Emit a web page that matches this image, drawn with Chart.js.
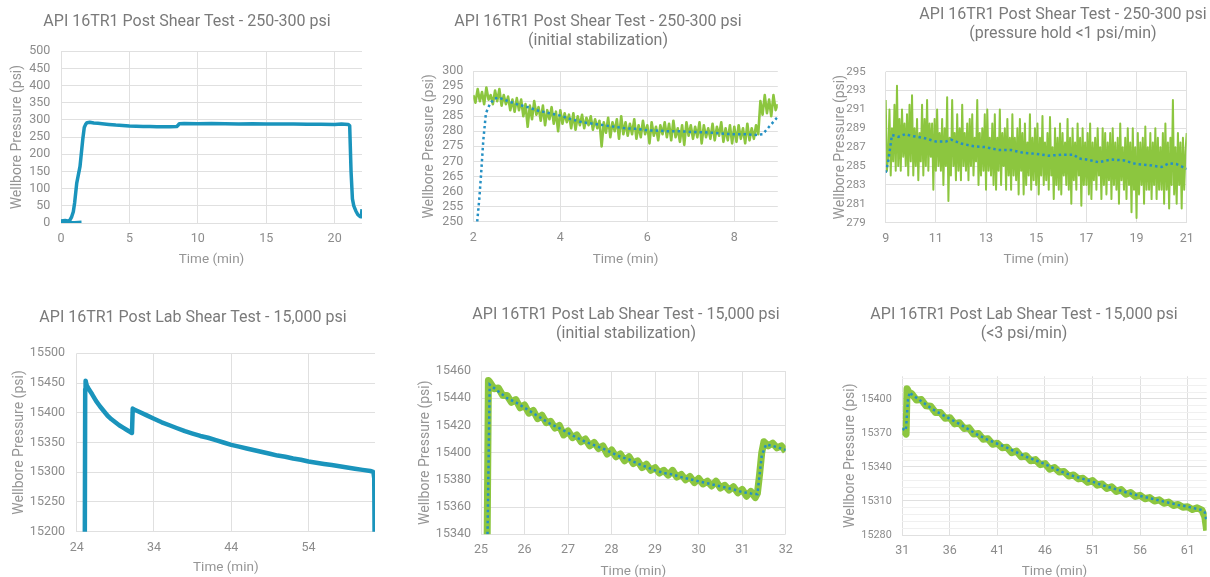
<!DOCTYPE html>
<html>
<head>
<meta charset="utf-8">
<script src="https://cdn.jsdelivr.net/npm/chart.js@4.4.1/dist/chart.umd.min.js"></script>
<style>
  html, body { margin: 0; padding: 0; background: #fff; }
  body { position: relative; width: 1210px; height: 577px; overflow: hidden; }
  canvas { position: absolute; }
</style>
</head>
<body>
<canvas id="c1"></canvas>
<canvas id="c2"></canvas>
<canvas id="c3"></canvas>
<canvas id="c4"></canvas>
<canvas id="c5"></canvas>
<canvas id="c6"></canvas>
<script>
/* ---------- DATA ---------- */

// panel 1 : full 250-300 psi test
const p1Time = [1.5, 1.0, 0.5, 0.0, 0.0, 0.3, 0.6, 0.78, 0.9, 1.0,
  1.15, 1.39, 1.59, 1.70, 1.8, 1.9, 2.1, 2.4, 2.7, 3.0,
  3.5, 4.0, 4.5, 5.0, 5.5, 6.0, 6.5, 7.0, 7.5, 8.0,
  8.45, 8.55, 8.65, 9.0, 10.0, 11.0, 12.0, 13.0, 14.0, 15.0,
  16.0, 17.0, 18.0, 19.0, 20.0, 20.5, 21.0, 21.1, 21.2, 21.3,
  21.4, 21.55, 21.7, 21.85, 21.95, 22.0];
const p1Pressure = [2, 1, 2, 3, 6, 7, 5, 18, 33, 60,
  116, 165, 243, 278, 287, 292, 293, 291, 290, 289,
  287, 285, 284, 282, 281.5, 281, 280.5, 280, 280, 280,
  280.5, 284, 289, 289.5, 289, 289.5, 288.5, 288, 288.5, 288,
  288, 288, 287.5, 287.5, 287, 288, 287, 283, 150, 70,
  50, 35, 24, 19, 18, 40];
const p1XTicks = [0, 5, 10, 15, 20];
const p1YTicks = [0, 50, 100, 150, 200, 250, 300, 350, 400, 450, 500];

// panel 2 : initial stabilization 250-300 psi
const p2Time = [2.00, 2.05, 2.10, 2.15, 2.20, 2.25, 2.30, 2.35, 2.40, 2.45,
  2.50, 2.55, 2.60, 2.65, 2.70, 2.75, 2.80, 2.85, 2.90, 2.95,
  3.00, 3.05, 3.10, 3.15, 3.20, 3.25, 3.30, 3.35, 3.40, 3.45,
  3.50, 3.55, 3.60, 3.65, 3.70, 3.75, 3.80, 3.85, 3.90, 3.95,
  4.00, 4.05, 4.10, 4.15, 4.20, 4.25, 4.30, 4.35, 4.40, 4.45,
  4.50, 4.55, 4.60, 4.65, 4.70, 4.75, 4.80, 4.85, 4.90, 4.95,
  5.00, 5.05, 5.10, 5.15, 5.20, 5.25, 5.30, 5.35, 5.40, 5.45,
  5.50, 5.55, 5.60, 5.65, 5.70, 5.75, 5.80, 5.85, 5.90, 5.95,
  6.00, 6.05, 6.10, 6.15, 6.20, 6.25, 6.30, 6.35, 6.40, 6.45,
  6.50, 6.55, 6.60, 6.65, 6.70, 6.75, 6.80, 6.85, 6.90, 6.95,
  7.00, 7.05, 7.10, 7.15, 7.20, 7.25, 7.30, 7.35, 7.40, 7.45,
  7.50, 7.55, 7.60, 7.65, 7.70, 7.75, 7.80, 7.85, 7.90, 7.95,
  8.00, 8.05, 8.10, 8.15, 8.20, 8.25, 8.30, 8.35, 8.40, 8.45,
  8.50, 8.55, 8.60, 8.65, 8.70, 8.75, 8.80, 8.85, 8.90, 8.95,
  9.00];
const p2Pressure = [292, 289.5, 294, 290, 293, 289, 294.5, 290.5, 292, 289,
  293.5, 290, 294, 288.5, 292, 289, 291.5, 287, 290.5, 286.5,
  291, 287, 290.5, 285, 289, 281.5, 288.5, 284, 290, 285.5,
  288, 283.5, 288.5, 282, 287, 284, 288, 282.5, 286.5, 280,
  287, 282.5, 286, 283, 285.5, 281, 286, 280.5, 285, 282,
  285.5, 281, 284.5, 282, 285, 280.5, 284, 281, 283.5, 275,
  283, 279.5, 284.5, 278, 283, 280, 284, 277.5, 285, 279,
  283, 278.5, 282.5, 279, 284, 277.5, 282, 278, 283.5, 279,
  282, 276, 283, 278.5, 281.5, 277, 282, 279, 283, 278,
  282.5, 277, 283.5, 278, 281, 276.5, 282, 275.5, 283, 278.5,
  282, 277.5, 281.5, 278, 283, 276, 282, 278, 281, 277.5,
  282.5, 277, 281.5, 278.5, 283, 276.5, 281, 277, 282, 276,
  281.5, 276.5, 282, 277.5, 281, 276, 282.5, 277, 281, 277.5,
  282, 279, 290, 285.5, 292, 286, 290.5, 285, 292, 287,
  289];
const p2AvgTime = [2.09, 2.14, 2.18, 2.23, 2.29, 2.38, 2.48, 2.58, 2.8, 3.0,
  3.25, 3.5, 3.75, 4.0, 4.25, 4.5, 4.75, 5.0, 5.25, 5.5,
  5.75, 6.0, 6.25, 6.5, 6.75, 7.0, 7.25, 7.5, 7.75, 8.0,
  8.25, 8.5, 8.65, 8.8, 9.0];
const p2AvgPressure = [250, 258, 266, 277, 286, 289, 290.8, 291.2, 290, 289,
  288, 286.8, 286, 285.2, 284, 283, 282.5, 282, 281.5, 281,
  280.8, 280.3, 280.2, 280, 280, 279.8, 279.7, 279.5, 279.2, 279,
  279, 278.8, 279, 281.5, 284.8];
const p2XTicks = [2, 4, 6, 8];
const p2YTicks = [250, 255, 260, 265, 270, 275, 280, 285, 290, 295, 300];

// panel 3 : pressure hold 250-300 psi (one row per minute)
const p3Time = [
  9.00, 9.05, 9.10, 9.15, 9.20, 9.25, 9.30, 9.35, 9.40, 9.45, 9.50, 9.55, 9.60, 9.65, 9.70, 9.75, 9.80, 9.85, 9.90, 9.95,
  10.00, 10.05, 10.10, 10.15, 10.20, 10.25, 10.30, 10.35, 10.40, 10.45, 10.50, 10.55, 10.60, 10.65, 10.70, 10.75, 10.80, 10.85, 10.90, 10.95,
  11.00, 11.05, 11.10, 11.15, 11.20, 11.25, 11.30, 11.35, 11.40, 11.45, 11.50, 11.55, 11.60, 11.65, 11.70, 11.75, 11.80, 11.85, 11.90, 11.95,
  12.00, 12.05, 12.10, 12.15, 12.20, 12.25, 12.30, 12.35, 12.40, 12.45, 12.50, 12.55, 12.60, 12.65, 12.70, 12.75, 12.80, 12.85, 12.90, 12.95,
  13.00, 13.05, 13.10, 13.15, 13.20, 13.25, 13.30, 13.35, 13.40, 13.45, 13.50, 13.55, 13.60, 13.65, 13.70, 13.75, 13.80, 13.85, 13.90, 13.95,
  14.00, 14.05, 14.10, 14.15, 14.20, 14.25, 14.30, 14.35, 14.40, 14.45, 14.50, 14.55, 14.60, 14.65, 14.70, 14.75, 14.80, 14.85, 14.90, 14.95,
  15.00, 15.05, 15.10, 15.15, 15.20, 15.25, 15.30, 15.35, 15.40, 15.45, 15.50, 15.55, 15.60, 15.65, 15.70, 15.75, 15.80, 15.85, 15.90, 15.95,
  16.00, 16.05, 16.10, 16.15, 16.20, 16.25, 16.30, 16.35, 16.40, 16.45, 16.50, 16.55, 16.60, 16.65, 16.70, 16.75, 16.80, 16.85, 16.90, 16.95,
  17.00, 17.05, 17.10, 17.15, 17.20, 17.25, 17.30, 17.35, 17.40, 17.45, 17.50, 17.55, 17.60, 17.65, 17.70, 17.75, 17.80, 17.85, 17.90, 17.95,
  18.00, 18.05, 18.10, 18.15, 18.20, 18.25, 18.30, 18.35, 18.40, 18.45, 18.50, 18.55, 18.60, 18.65, 18.70, 18.75, 18.80, 18.85, 18.90, 18.95,
  19.00, 19.05, 19.10, 19.15, 19.20, 19.25, 19.30, 19.35, 19.40, 19.45, 19.50, 19.55, 19.60, 19.65, 19.70, 19.75, 19.80, 19.85, 19.90, 19.95,
  20.00, 20.05, 20.10, 20.15, 20.20, 20.25, 20.30, 20.35, 20.40, 20.45, 20.50, 20.55, 20.60, 20.65, 20.70, 20.75, 20.80, 20.85, 20.90, 20.95,
  21.00];
const p3Pressure = [
  292, 284.5, 286, 291, 284, 289, 285.5, 291.5, 284.5, 293.5, 285, 290, 284.5, 291, 286, 289.5, 285, 290.5, 284, 291.5,
  285.5, 292.5, 284, 289, 285, 290, 283.5, 288.5, 285.5, 291.5, 284, 290, 285, 292, 284.5, 289.5, 286, 289.5, 282.5, 290,
  284.5, 291, 285, 288.5, 284.5, 290, 283, 289, 285, 292.3, 281.3, 288, 284, 292, 285, 288.5, 283.5, 290.5, 284.5, 289,
  283.5, 291.5, 285, 288.5, 284.5, 289.5, 283.5, 290, 285, 290.5, 284, 288, 285.5, 292, 283, 288.5, 284, 289, 284.5, 290.5,
  282.5, 291, 284.5, 288, 284, 289.5, 283, 290.5, 282.5, 288, 284.5, 291, 283, 288.5, 285, 289, 282.5, 290, 284, 288,
  282.5, 290.5, 284, 288, 283.5, 289, 282, 290, 284.5, 288.5, 282, 289.5, 283, 287.5, 284, 290.5, 282.5, 288, 283.5, 289,
  283, 289.5, 282, 288, 284, 290.3, 283, 287.5, 283.5, 288.5, 282.5, 290.2, 284, 287, 281.5, 289, 283, 288, 282.5, 289.5,
  282, 288.5, 284, 287.5, 283, 290, 282.5, 288, 281, 289, 283.5, 287.5, 282.5, 289.5, 284, 288, 280.8, 289, 283, 287.5,
  283, 288.5, 282, 289.5, 281.5, 287.5, 283.5, 288, 282.5, 289, 284, 287, 281.5, 289, 283, 288.5, 282, 287.5, 283.5, 288.5,
  281.5, 289, 283, 287.5, 282.5, 288, 281, 289.5, 283.5, 287, 282.5, 288, 281.5, 289, 283, 287.5, 280.1, 289, 282.5, 287,
  279.5, 288.5, 282, 287.5, 283, 288, 281, 289.2, 282.5, 287, 282.5, 288.5, 281.5, 287.5, 283, 289, 281.5, 288, 282.5, 287,
  282.5, 288.5, 281, 289.5, 282.5, 287.5, 280.5, 288, 283, 292, 282, 287, 281, 288.5, 283, 287.5, 280.5, 288, 282.5, 286.5,
  288.5];
const p3AvgTime = [9.0, 9.1, 9.25, 9.5, 9.8, 10.0, 10.5, 11.0, 11.4, 11.6,
  12.0, 12.5, 13.0, 13.5, 14.0, 14.5, 15.0, 15.5, 16.0, 16.5,
  16.7, 17.0, 17.5, 18.0, 18.5, 19.0, 19.5, 20.0, 20.3, 20.6,
  21.0];
const p3AvgPressure = [284.3, 285.5, 288.3, 288.1, 288.4, 288.2, 288.0, 287.6, 287.6, 287.8,
  287.4, 287.1, 287.0, 286.7, 286.7, 286.4, 286.3, 286.1, 286.2, 286.2,
  285.8, 285.7, 285.4, 285.7, 285.6, 285.2, 285.1, 284.9, 285.3, 285.2,
  284.7];
const p3XTicks = [9, 11, 13, 15, 17, 19, 21];
const p3YTicks = [279, 281, 283, 285, 287, 289, 291, 293, 295];

// panel 4 : full 15,000 psi test
const p4Time = [25.05, 25.1, 25.15, 25.3, 25.6, 26.0, 26.5, 27.0, 27.5, 28.0,
  28.5, 29.0, 29.5, 30.0, 30.5, 31.0, 31.15, 31.25, 31.5, 32.0,
  33, 34, 35, 36, 37, 38, 39, 40, 41, 42,
  43, 44, 45, 46, 47, 48, 49, 50, 51, 52,
  53, 54, 55, 56, 57, 58, 59, 60, 61, 62,
  62.3, 62.4, 62.5, 62.55];
const p4Pressure = [15190, 15440, 15454, 15446, 15439, 15431, 15420, 15411, 15403, 15395,
  15389, 15384, 15379, 15375, 15371, 15367, 15366, 15407, 15405, 15402,
  15396, 15390, 15384, 15379, 15374, 15369, 15365, 15361, 15358, 15354,
  15350, 15346, 15343, 15340, 15337, 15334, 15331, 15328, 15326, 15323,
  15321, 15318, 15316, 15314, 15312, 15310, 15308, 15306, 15304, 15302,
  15301, 15300, 15290, 15190];
const p4XTicks = [24, 34, 44, 54];
const p4YTicks = [15200, 15250, 15300, 15350, 15400, 15450, 15500];

// panel 5 : initial stabilization 15,000 psi
const p5Time = [25.14, 25.17,
  25.2, 25.3, 25.4, 25.5, 25.6, 25.7, 25.8, 25.9, 26.0, 26.1,
  26.2, 26.3, 26.4, 26.5, 26.6, 26.7, 26.8, 26.9, 27.0, 27.1,
  27.2, 27.3, 27.4, 27.5, 27.6, 27.7, 27.8, 27.9, 28.0, 28.1,
  28.2, 28.3, 28.4, 28.5, 28.6, 28.7, 28.8, 28.9, 29.0, 29.1,
  29.2, 29.3, 29.4, 29.5, 29.6, 29.7, 29.8, 29.9, 30.0, 30.1,
  30.2, 30.3, 30.4, 30.5, 30.6, 30.7, 30.8, 30.9, 31.0, 31.1,
  31.2, 31.3,
  31.35, 31.4, 31.45, 31.5, 31.6, 31.7, 31.8, 31.9, 32.0];
const p5Pressure = [15330, 15453,
  15452, 15447, 15447.5, 15442, 15442, 15437, 15439, 15433, 15435, 15429,
  15431, 15425, 15427.5, 15422, 15423, 15418, 15420, 15413, 15416, 15411,
  15413, 15408, 15410, 15405, 15407.5, 15403, 15405, 15399, 15402, 15397,
  15399, 15394, 15397, 15392, 15394, 15389, 15391.5, 15387, 15389, 15385,
  15387, 15383.5, 15387, 15382, 15384, 15380, 15382.5, 15378, 15381, 15377,
  15379, 15375.5, 15379, 15374, 15376, 15372.5, 15375, 15370.5, 15373, 15368,
  15371.5, 15367,
  15370, 15384, 15400, 15408, 15405, 15407, 15403.5, 15405, 15401];
const p5AvgTime = [25.15, 25.2, 25.4, 25.6, 25.8, 26.0, 26.2, 26.4, 26.6, 26.8,
  27.0, 27.2, 27.4, 27.6, 27.8, 28.0, 28.2, 28.4, 28.6, 28.8,
  29.0, 29.2, 29.4, 29.6, 29.8, 30.0, 30.2, 30.4, 30.6, 30.8,
  31.0, 31.2, 31.35, 31.45, 31.55, 31.7, 31.85, 32.0];
const p5AvgPressure = [15340, 15450, 15445, 15440, 15437, 15433, 15429, 15425, 15421, 15418,
  15414.5, 15411, 15408, 15405.5, 15403, 15400, 15397, 15395, 15392, 15389.5,
  15387, 15385, 15384, 15382, 15380.5, 15379, 15377.5, 15376, 15374.5, 15373,
  15371, 15370, 15369.5, 15398, 15406, 15405, 15403.5, 15402];
const p5XTicks = [25, 26, 27, 28, 29, 30, 31, 32];
const p5YTicks = [15340, 15360, 15380, 15400, 15420, 15440, 15460];

// panel 6 : hold <3 psi/min 15,000 psi
const p6Time = [31.0, 31.2, 31.4, 31.5, 31.7, 32.0, 32.5, 33.0, 33.5, 34.0,
  34.5, 35.0, 35.5, 36.0, 36.5, 37.0, 37.5, 38.0, 38.5, 39.0,
  39.5, 40.0, 40.5, 41.0, 41.5, 42.0, 42.5, 43.0, 43.5, 44.0,
  44.5, 45.0, 45.5, 46.0, 46.5, 47.0, 47.5, 48.0, 48.5, 49.0,
  49.5, 50.0, 50.5, 51.0, 51.5, 52.0, 52.5, 53.0, 53.5, 54.0,
  54.5, 55.0, 55.5, 56.0, 56.5, 57.0, 57.5, 58.0, 58.5, 59.0,
  59.5, 60.0, 60.5, 61.0, 61.5, 62.0, 62.5, 62.8, 63.0];
const p6Pressure = [15368, 15372, 15369, 15409, 15406, 15404.5, 15399, 15399.5, 15394, 15393.5,
  15388, 15388, 15383, 15383.5, 15378, 15379, 15374, 15374.5, 15369, 15369.5,
  15364.5, 15365, 15360, 15361, 15357, 15357.5, 15352.5, 15354, 15349, 15350,
  15345.5, 15346.5, 15342, 15343, 15338, 15339.5, 15335.5, 15336, 15332, 15333,
  15329.5, 15330, 15326.5, 15328, 15324, 15325, 15321, 15322.5, 15318.5, 15320,
  15316, 15317.5, 15314, 15315, 15312, 15313, 15310, 15311, 15308, 15309,
  15306, 15307, 15304.5, 15305, 15302.5, 15304, 15302, 15296, 15284];
const p6AvgTime = [31.0, 31.3, 31.4, 31.6, 31.8, 32, 33, 34, 35, 36,
  37, 38, 39, 40, 41, 42, 43, 44, 45, 46,
  47, 48, 49, 50, 51, 52, 53, 54, 55, 56,
  57, 58, 59, 60, 61, 62, 62.5, 62.8, 63];
const p6AvgPressure = [15374, 15372, 15375, 15400, 15406, 15404, 15398, 15392, 15387, 15382.5,
  15378, 15373, 15368, 15364, 15360.5, 15357, 15353, 15349, 15346, 15342.5,
  15338.5, 15335, 15332, 15329.5, 15327, 15324, 15321.5, 15319, 15316.5, 15314.5,
  15312.5, 15310.5, 15308.5, 15306.5, 15305, 15303, 15302, 15300, 15292];
const p6XTicks = [31, 36, 41, 46, 51, 56, 61];
const p6YTicks = [15280, 15310, 15340, 15370, 15400];
const p6YMinor = [15280, 15286, 15292, 15298, 15304, 15310, 15316, 15322, 15328, 15334,
  15340, 15346, 15352, 15358, 15364, 15370, 15376, 15382, 15388, 15394,
  15400, 15406, 15412, 15418];

const titleShear = "API 16TR1 Post Shear Test - 250-300 psi";
const titleLab = "API 16TR1 Post Lab Shear Test - 15,000 psi";


/* ---------- STYLE ---------- */
const FONT = "Roboto";
const BLUE = "#1a94bc";
const GREEN = "#8cc63f";
const DOTS = "#2590c4";
const GRID = "#e0e0e0";
const MINOR = "#f0f0f0";

Chart.defaults.font.family = FONT;


function pts(xs, ys) {
  return xs.map((x, i) => ({ x: x, y: ys[i] }));
}

function solid(xs, ys, color, width) {
  return {
    data: pts(xs, ys),
    borderColor: color,
    borderWidth: width,
    pointRadius: 0,
    tension: 0,
    fill: false,
    borderJoinStyle: "round",
    order: 2
  };
}

function dotted(xs, ys) {
  return {
    data: pts(xs, ys),
    borderColor: DOTS,
    borderWidth: 2.5,
    borderDash: [2.5, 3],
    pointRadius: 0,
    tension: 0,
    fill: false,
    order: 1
  };
}


/* ---------- ONE PANEL ---------- */
function makePanel(p) {

  const cv = document.getElementById(p.id);
  cv.width = p.w;
  cv.height = p.h;
  cv.style.left = p.left + "px";
  cv.style.top = p.top + "px";

  const plotL = p.plotL - p.left;
  const plotR = p.plotR - p.left;
  const plotB = p.plotB - p.top;

  new Chart(cv, {
    type: "line",
    data: { datasets: p.datasets },
    options: {
      responsive: false,
      animation: false,
      devicePixelRatio: 1,
      layout: { padding: 0 },
      plugins: {
        legend: { display: false },
        tooltip: { enabled: false },
        title: {
          display: true,
          text: p.title,
          color: "#7a7a7a",
          font: { size: 16, weight: "normal", lineHeight: 1.2 },
          padding: { top: p.tTop, bottom: p.tBottom }
        }
      },
      scales: {
        x: {
          type: "linear",
          min: p.xMin,
          max: p.xMax,
          afterBuildTicks: s => { s.ticks = p.xTicks.map(v => ({ value: v })); },
          afterFit: s => {
            s.height = p.h - plotB;
            s.paddingRight = p.w - plotR;
          },
          ticks: {
            autoSkip: false,
            maxRotation: 0,
            padding: 8.5,
            color: "#8c8c8c",
            font: { size: 12.5 },
            callback: v => String(v)
          },
          grid: { color: GRID, drawTicks: false },
          border: { display: false },
          title: {
            display: true,
            text: "Time (min)",
            color: "#959595",
            font: { size: 13.5, lineHeight: 1.2 },
            padding: { top: 0, bottom: p.xTitlePad }
          }
        },
        y: {
          type: "linear",
          min: p.yMin,
          max: p.yMax,
          afterBuildTicks: s => {
            const src = p.yGrid || p.yTicks;
            s.ticks = src.map(v => ({ value: v }));
          },
          afterFit: s => { s.width = plotL; },
          ticks: {
            autoSkip: false,
            padding: p.yPad,
            color: "#8c8c8c",
            font: { size: p.yFont || 12.5 },
            callback: v => (p.yTicks.includes(v) ? String(v) : "")
          },
          grid: {
            color: c => (p.yTicks.includes(c.tick.value) ? GRID : MINOR),
            drawTicks: false
          },
          border: { display: false },
          title: {
            display: true,
            text: "Wellbore Pressure (psi)",
            color: "#959595",
            font: { size: 14, lineHeight: 1.2 },
            padding: { top: p.yTitlePad, bottom: 0 }
          }
        }
      }
    }
  });
}


/* ---------- PANELS ---------- */
makePanel({
  id: "c1", left: 0, top: 0, w: 374, h: 273,
  plotL: 61, plotR: 362, plotB: 223,
  tTop: 12, tBottom: 20, title: titleShear,
  xMin: 0, xMax: 22, xTicks: p1XTicks,
  yMin: 0, yMax: 500, yTicks: p1YTicks,
  yPad: 10.7, yTitlePad: 8.6, xTitlePad: 4.9,
  datasets: [solid(p1Time, p1Pressure, BLUE, 3.5)]
});

makePanel({
  id: "c2", left: 410, top: 0, w: 376, h: 273,
  plotL: 473.3, plotR: 777.8, plotB: 221.7,
  tTop: 12.4, tBottom: 20.2, title: [titleShear, "(initial stabilization)"],
  xMin: 2, xMax: 9, xTicks: p2XTicks,
  yMin: 250, yMax: 300, yTicks: p2YTicks,
  yPad: 10, yTitlePad: 10.6, xTitlePad: 4.9,
  datasets: [solid(p2Time, p2Pressure, GREEN, 2.6), dotted(p2AvgTime, p2AvgPressure)]
});

makePanel({
  id: "c3", left: 830, top: 0, w: 466, h: 273,
  plotL: 885.7, plotR: 1186.7, plotB: 222.7,
  tTop: 5.4, tBottom: 27.9, title: [titleShear, "(pressure hold <1 psi/min)"],
  xMin: 9, xMax: 21, xTicks: p3XTicks,
  yMin: 279, yMax: 295, yTicks: p3YTicks,
  yPad: 20, yTitlePad: 1.6, xTitlePad: 4.9, yFont: 11.5,
  datasets: [solid(p3Time, p3Pressure, GREEN, 2), dotted(p3AvgTime, p3AvgPressure)]
});

makePanel({
  id: "c4", left: 0, top: 290, w: 386, h: 295,
  plotL: 76.7, plotR: 375, plotB: 531.7,
  tTop: 18.4, tBottom: 25.7, title: titleLab,
  xMin: 24, xMax: 62.6, xTicks: p4XTicks,
  yMin: 15200, yMax: 15500, yTicks: p4YTicks,
  yPad: 11.7, yTitlePad: 10.6, xTitlePad: 8.9,
  datasets: [solid(p4Time, p4Pressure, BLUE, 4.5)]
});

makePanel({
  id: "c5", left: 410, top: 290, w: 432, h: 295,
  plotL: 481, plotR: 785.7, plotB: 534.3,
  tTop: 15.4, tBottom: 27.2, title: [titleLab, "(initial stabilization)"],
  xMin: 25, xMax: 32, xTicks: p5XTicks,
  yMin: 15340, yMax: 15460, yTicks: p5YTicks,
  yPad: 10, yTitlePad: 6.6, xTitlePad: 4.9,
  datasets: [solid(p5Time, p5Pressure, GREEN, 7), dotted(p5AvgTime, p5AvgPressure)]
});

makePanel({
  id: "c6", left: 840, top: 290, w: 368, h: 295,
  plotL: 902.3, plotR: 1206.7, plotB: 535,
  tTop: 15.4, tBottom: 32.5, title: [titleLab, "(<3 psi/min)"],
  xMin: 31, xMax: 63, xTicks: p6XTicks,
  yMin: 15280, yMax: 15420, yTicks: p6YTicks, yGrid: p6YMinor,
  yPad: 10.6, yTitlePad: 2.1, xTitlePad: 4.9, yFont: 10.8,
  datasets: [solid(p6Time, p6Pressure, GREEN, 7), dotted(p6AvgTime, p6AvgPressure)]
});
</script>
</body>
</html>
